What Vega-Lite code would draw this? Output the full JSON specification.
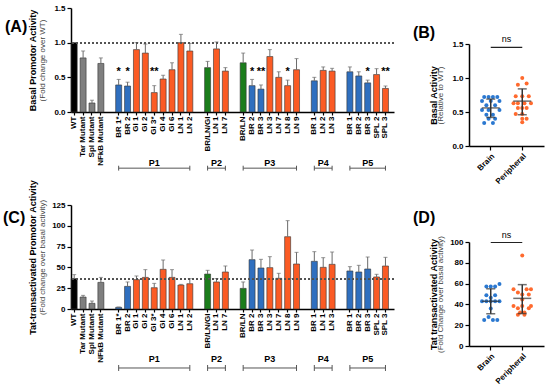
{
  "$schema": "https://vega.github.io/schema/vega-lite/v6.json",
  "padding": {"left": 3, "top": 4, "right": 4, "bottom": 2},
  "config": {
    "font": "Liberation Sans",
    "view": {"stroke": null},
    "axis": {"grid": false, "domainColor": "#000", "domainWidth": 1.5, "tickColor": "#000", "tickWidth": 1.2, "tickSize": 4, "labelFontSize": 8, "labelFontWeight": "bold", "labelColor": "#000", "labelPadding": 2, "titleFontSize": 9, "titleFontWeight": "bold", "titleColor": "#000"},
    "title": {"fontSize": 16, "fontWeight": "bold", "color": "#000"}
  },
  "datasets": {
    "A": [
      {"key": "WT", "t": "wt", "val": 1.0, "hi": null, "sig": null},
      {"key": "Tar Mutant", "t": "mut", "val": 0.78, "hi": 0.88, "sig": null},
      {"key": "Spl Mutant", "t": "mut", "val": 0.13, "hi": 0.17, "sig": null},
      {"key": "NFkB Mutant", "t": "mut", "val": 0.70, "hi": 0.78, "sig": null},
      {"key": "BR 1*", "t": "br", "val": 0.39, "hi": 0.47, "sig": "*"},
      {"key": "BR 2", "t": "br", "val": 0.375, "hi": 0.43, "sig": "*"},
      {"key": "GI 1", "t": "ln", "val": 0.90, "hi": 1.0, "sig": null},
      {"key": "GI 2", "t": "ln", "val": 0.85, "hi": 0.98, "sig": null},
      {"key": "GI 3*", "t": "ln", "val": 0.28, "hi": 0.38, "sig": "**"},
      {"key": "GI 4", "t": "ln", "val": 0.476, "hi": 0.53, "sig": null},
      {"key": "GI 6", "t": "ln", "val": 0.61, "hi": 0.71, "sig": null},
      {"key": "LN 1", "t": "ln", "val": 1.0, "hi": 1.12, "sig": null},
      {"key": "LN 2", "t": "ln", "val": 0.88, "hi": 0.99, "sig": null},
      {"key": "BR/LN/GI", "t": "mix", "val": 0.64, "hi": 0.73, "sig": null},
      {"key": "LN 1|2", "t": "ln", "val": 0.91, "hi": 1.01, "sig": null},
      {"key": "LN 7|2", "t": "ln", "val": 0.59, "hi": 0.64, "sig": null},
      {"key": "BR/LN", "t": "mix", "val": 0.71, "hi": 0.85, "sig": null},
      {"key": "BR 2|3", "t": "br", "val": 0.38, "hi": 0.47, "sig": "*"},
      {"key": "BR 3|3", "t": "br", "val": 0.33, "hi": 0.39, "sig": "**"},
      {"key": "LN 3|3", "t": "ln", "val": 0.80, "hi": 0.90, "sig": null},
      {"key": "LN 7|3", "t": "ln", "val": 0.50, "hi": 0.58, "sig": null},
      {"key": "LN 8|3", "t": "ln", "val": 0.38, "hi": 0.46, "sig": "*"},
      {"key": "LN 9|3", "t": "ln", "val": 0.61, "hi": 0.77, "sig": null},
      {"key": "BR 1|4", "t": "br", "val": 0.45, "hi": 0.50, "sig": null},
      {"key": "LN 2|4", "t": "ln", "val": 0.60, "hi": 0.65, "sig": null},
      {"key": "LN 3|4", "t": "ln", "val": 0.59, "hi": 0.63, "sig": null},
      {"key": "BR 1|5", "t": "br", "val": 0.58, "hi": 0.65, "sig": null},
      {"key": "BR 2|5", "t": "br", "val": 0.52, "hi": 0.58, "sig": null},
      {"key": "BR 3|5", "t": "br", "val": 0.42, "hi": 0.46, "sig": "*"},
      {"key": "SPL 2|5", "t": "ln", "val": 0.54, "hi": 0.625, "sig": null},
      {"key": "SPL 3|5", "t": "ln", "val": 0.34, "hi": 0.375, "sig": "**"}
    ],
    "C": [
      {"key": "WT", "t": "wt", "val": 36.5, "hi": 41.3},
      {"key": "Tar Mutant", "t": "mut", "val": 14.4, "hi": 16.4},
      {"key": "Spl Mutant", "t": "mut", "val": 6.8, "hi": 9.6},
      {"key": "NFkB Mutant", "t": "mut", "val": 32, "hi": 38},
      {"key": "BR 1*", "t": "br", "val": 2.0, "hi": 2.4},
      {"key": "BR 2", "t": "br", "val": 27.2, "hi": 32.5},
      {"key": "GI 1", "t": "ln", "val": 35.3, "hi": 39.7},
      {"key": "GI 2", "t": "ln", "val": 38, "hi": 47.3},
      {"key": "GI 3*", "t": "ln", "val": 25.6, "hi": 30.8},
      {"key": "GI 4", "t": "ln", "val": 47.7, "hi": 58.9},
      {"key": "GI 6", "t": "ln", "val": 38, "hi": 47.3},
      {"key": "LN 1", "t": "ln", "val": 28.8, "hi": 29.6},
      {"key": "LN 2", "t": "ln", "val": 30.4, "hi": 36.5},
      {"key": "BR/LN/GI", "t": "mix", "val": 42, "hi": 46.5},
      {"key": "LN 1|2", "t": "ln", "val": 32.5, "hi": 36.5},
      {"key": "LN 7|2", "t": "ln", "val": 44.5, "hi": 51.7},
      {"key": "BR/LN", "t": "mix", "val": 24.8, "hi": 32.5},
      {"key": "BR 2|3", "t": "br", "val": 59.3, "hi": 70.9},
      {"key": "BR 3|3", "t": "br", "val": 49.3, "hi": 59.7},
      {"key": "LN 3|3", "t": "ln", "val": 49.7, "hi": 62.9},
      {"key": "LN 7|3", "t": "ln", "val": 36.9, "hi": 42.9},
      {"key": "LN 8|3", "t": "ln", "val": 86.9, "hi": 106.2},
      {"key": "LN 9|3", "t": "ln", "val": 54.1, "hi": 68.1},
      {"key": "BR 1|4", "t": "br", "val": 57.3, "hi": 68.9},
      {"key": "LN 1|4", "t": "ln", "val": 50.1, "hi": 61.7},
      {"key": "LN 3|4", "t": "ln", "val": 53.7, "hi": 68.5},
      {"key": "BR 1|5", "t": "br", "val": 45.7, "hi": 50.9},
      {"key": "BR 2|5", "t": "br", "val": 44.5, "hi": 52.5},
      {"key": "BR 3|5", "t": "br", "val": 48.1, "hi": 62.5},
      {"key": "SPL 2|5", "t": "ln", "val": 38.5, "hi": 41.7},
      {"key": "SPL 3|5", "t": "ln", "val": 51.7, "hi": 62.1}
    ],
    "GA": [
      {"g": "P1", "s": "BR 1*", "e": "LN 2", "m": "GI 3*"},
      {"g": "P2", "s": "BR/LN/GI", "e": "LN 7|2", "m": "LN 1|2"},
      {"g": "P3", "s": "BR/LN", "e": "LN 9|3", "m": "LN 3|3"},
      {"g": "P4", "s": "BR 1|4", "e": "LN 3|4", "m": "LN 2|4"},
      {"g": "P5", "s": "BR 1|5", "e": "SPL 3|5", "m": "BR 3|5"}
    ],
    "GC": [
      {"g": "P1", "s": "BR 1*", "e": "LN 2", "m": "GI 3*"},
      {"g": "P2", "s": "BR/LN/GI", "e": "LN 7|2", "m": "LN 1|2"},
      {"g": "P3", "s": "BR/LN", "e": "LN 9|3", "m": "LN 3|3"},
      {"g": "P4", "s": "BR 1|4", "e": "LN 3|4", "m": "LN 1|4"},
      {"g": "P5", "s": "BR 1|5", "e": "SPL 3|5", "m": "BR 3|5"}
    ],
    "BP": [
      {"grp": "Brain", "v": 0.72, "k": -3}, {"grp": "Brain", "v": 0.72, "k": -1}, {"grp": "Brain", "v": 0.72, "k": 1}, {"grp": "Brain", "v": 0.72, "k": 3},
      {"grp": "Brain", "v": 0.66, "k": -4}, {"grp": "Brain", "v": 0.66, "k": 0}, {"grp": "Brain", "v": 0.66, "k": 4},
      {"grp": "Brain", "v": 0.60, "k": -2}, {"grp": "Brain", "v": 0.60, "k": 2},
      {"grp": "Brain", "v": 0.53, "k": -4}, {"grp": "Brain", "v": 0.53, "k": -1}, {"grp": "Brain", "v": 0.53, "k": 4},
      {"grp": "Brain", "v": 0.46, "k": -2}, {"grp": "Brain", "v": 0.46, "k": 1},
      {"grp": "Brain", "v": 0.40, "k": -1}, {"grp": "Brain", "v": 0.40, "k": 2},
      {"grp": "Brain", "v": 0.34, "k": -3}, {"grp": "Brain", "v": 0.34, "k": 1},
      {"grp": "Peripheral", "v": 1.0, "k": 0},
      {"grp": "Peripheral", "v": 0.90, "k": -2}, {"grp": "Peripheral", "v": 0.92, "k": 2},
      {"grp": "Peripheral", "v": 0.73, "k": -3}, {"grp": "Peripheral", "v": 0.73, "k": 0}, {"grp": "Peripheral", "v": 0.73, "k": 3},
      {"grp": "Peripheral", "v": 0.63, "k": -4}, {"grp": "Peripheral", "v": 0.63, "k": -2}, {"grp": "Peripheral", "v": 0.63, "k": 1}, {"grp": "Peripheral", "v": 0.63, "k": 4},
      {"grp": "Peripheral", "v": 0.56, "k": -2}, {"grp": "Peripheral", "v": 0.56, "k": 0}, {"grp": "Peripheral", "v": 0.56, "k": 2},
      {"grp": "Peripheral", "v": 0.47, "k": -3}, {"grp": "Peripheral", "v": 0.47, "k": 0},
      {"grp": "Peripheral", "v": 0.40, "k": 0}, {"grp": "Peripheral", "v": 0.40, "k": 2},
      {"grp": "Peripheral", "v": 0.35, "k": 0}
    ],
    "BS": [
      {"grp": "Brain", "mean": 0.56, "lo": 0.42, "hi": 0.69},
      {"grp": "Peripheral", "mean": 0.66, "lo": 0.46, "hi": 0.84}
    ],
    "DP": [
      {"grp": "Brain", "v": 59.6, "k": 4},
      {"grp": "Brain", "v": 57.3, "k": -2}, {"grp": "Brain", "v": 57.3, "k": 0}, {"grp": "Brain", "v": 57.3, "k": 2},
      {"grp": "Brain", "v": 48.7, "k": -2}, {"grp": "Brain", "v": 48.7, "k": 2},
      {"grp": "Brain", "v": 46.5, "k": 0},
      {"grp": "Brain", "v": 43, "k": -4}, {"grp": "Brain", "v": 43, "k": -2}, {"grp": "Brain", "v": 43, "k": 0}, {"grp": "Brain", "v": 43, "k": 2}, {"grp": "Brain", "v": 43, "k": 4},
      {"grp": "Brain", "v": 36, "k": 0},
      {"grp": "Brain", "v": 28, "k": -1},
      {"grp": "Brain", "v": 25, "k": -3}, {"grp": "Brain", "v": 25, "k": 1}, {"grp": "Brain", "v": 25, "k": 3},
      {"grp": "Peripheral", "v": 87, "k": 0},
      {"grp": "Peripheral", "v": 54.5, "k": -4}, {"grp": "Peripheral", "v": 54.5, "k": 2}, {"grp": "Peripheral", "v": 54.5, "k": 4},
      {"grp": "Peripheral", "v": 51.5, "k": -2},
      {"grp": "Peripheral", "v": 49.5, "k": 0}, {"grp": "Peripheral", "v": 49.5, "k": 3},
      {"grp": "Peripheral", "v": 44.6, "k": 0},
      {"grp": "Peripheral", "v": 38.5, "k": -4}, {"grp": "Peripheral", "v": 38.5, "k": 0}, {"grp": "Peripheral", "v": 38.5, "k": 4},
      {"grp": "Peripheral", "v": 36.3, "k": -2}, {"grp": "Peripheral", "v": 36.3, "k": 3},
      {"grp": "Peripheral", "v": 32.2, "k": -1}, {"grp": "Peripheral", "v": 32.2, "k": 1},
      {"grp": "Peripheral", "v": 30, "k": -2}, {"grp": "Peripheral", "v": 30, "k": 1}
    ],
    "DS": [
      {"grp": "Brain", "mean": 43, "lo": 31, "hi": 55},
      {"grp": "Peripheral", "mean": 45.8, "lo": 31.2, "hi": 59}
    ],
    "NS": [{"a": "Brain", "b": "Peripheral", "t": "ns", "p": "(B)"}]
  },
  "columns": 2,
  "bounds": "flush",
  "spacing": {"row": 59, "column": 75},
  "resolve": {"scale": {"color": "independent"}},
  "concat": [
    {
      "width": 323, "height": 104,
      "title": {"text": "(A)", "anchor": "start", "frame": "group", "align": "left", "dx": -66, "dy": 31, "offset": 0},
      "layer": [
        {
          "data": {"name": "A"},
          "mark": {"type": "bar", "stroke": "#333", "strokeWidth": 0.6, "width": 6},
          "encoding": {
            "x": {"field": "key", "type": "nominal", "title": null,
              "scale": {"type": "band", "domain": ["WT","Tar Mutant","Spl Mutant","NFkB Mutant","|1","BR 1*","BR 2","GI 1","GI 2","GI 3*","GI 4","GI 6","LN 1","LN 2","|2","BR/LN/GI","LN 1|2","LN 7|2","|3","BR/LN","BR 2|3","BR 3|3","LN 3|3","LN 7|3","LN 8|3","LN 9|3","|4","BR 1|4","LN 2|4","LN 3|4","|5","BR 1|5","BR 2|5","BR 3|5","SPL 2|5","SPL 3|5"], "paddingInner": 0.28, "paddingOuter": 0.3, "align": 0},
              "axis": {"labelAngle": -90, "labelExpr": "split(datum.value,'|')[0]", "tickSize": 3, "labelPadding": 1, "tickOpacity": {"condition": {"test": "indexof(datum.value,'|')==0", "value": 0}, "value": 1}}},
            "y": {"field": "val", "type": "quantitative", "scale": {"domain": [0, 1.5]},
              "axis": {"title": "(Fold change over WT)", "values": [0, 0.5, 1, 1.5], "format": ".1f", "titleFontWeight": "normal", "titleFontSize": 8, "titleColor": "#444", "titlePadding": 7, "minExtent": 0}},
            "color": {"field": "t", "type": "nominal", "legend": null, "scale": {"domain": ["wt","mut","br","ln","mix"], "range": ["#000000","#7f7f7f","#2f6fbf","#fb5b24","#1b7d1b"]}}
          }
        },
        {
          "data": {"name": "A"},
          "transform": [{"filter": "isValid(datum.hi)"}],
          "mark": {"type": "rule", "color": "#6b6b6b", "strokeWidth": 1},
          "encoding": {
            "x": {"field": "key", "type": "nominal", "title": null},
            "y": {"field": "val", "type": "quantitative", "scale": {"domain": [0, 1.5]}, "axis": {"orient": "left", "title": "Basal Promotor Activity", "labels": false, "ticks": false, "domain": false, "titlePadding": 34, "minExtent": 0}},
            "y2": {"field": "hi"}
          }
        },
        {
          "data": {"name": "A"},
          "transform": [{"filter": "isValid(datum.hi)"}],
          "mark": {"type": "tick", "color": "#6b6b6b", "size": 4, "thickness": 1},
          "encoding": {
            "x": {"field": "key", "type": "nominal", "title": null},
            "y": {"field": "hi", "type": "quantitative", "scale": {"domain": [0, 1.5]}, "axis": null}
          }
        },
        {
          "data": {"name": "A"},
          "transform": [{"filter": "isValid(datum.sig)"}],
          "mark": {"type": "text", "fontWeight": "bold", "fontSize": 11, "baseline": "middle"},
          "encoding": {
            "x": {"field": "key", "type": "nominal", "title": null},
            "y": {"datum": 0.57, "type": "quantitative", "scale": {"domain": [0, 1.5]}, "axis": null},
            "text": {"field": "sig"}
          }
        },
        {
          "data": {"name": "A"},
          "mark": {"type": "rule", "strokeDash": [2, 2], "color": "#555", "strokeWidth": 1},
          "encoding": {"y": {"datum": 1, "type": "quantitative", "scale": {"domain": [0, 1.5]}, "axis": null}}
        },
        {
          "data": {"name": "GA"},
          "mark": {"type": "rule", "color": "#555", "strokeWidth": 1},
          "encoding": {
            "x": {"field": "s", "type": "nominal", "title": null},
            "x2": {"field": "e"},
            "y": {"datum": -0.81, "type": "quantitative", "scale": {"domain": [0, 1.5]}, "axis": null}
          }
        },
        {
          "data": {"name": "GA"},
          "mark": {"type": "rule", "color": "#555", "strokeWidth": 1},
          "encoding": {
            "x": {"field": "s", "type": "nominal", "title": null},
            "y": {"datum": -0.775, "type": "quantitative", "scale": {"domain": [0, 1.5]}, "axis": null},
            "y2": {"datum": -0.845}
          }
        },
        {
          "data": {"name": "GA"},
          "mark": {"type": "rule", "color": "#555", "strokeWidth": 1},
          "encoding": {
            "x": {"field": "e", "type": "nominal", "title": null},
            "y": {"datum": -0.775, "type": "quantitative", "scale": {"domain": [0, 1.5]}, "axis": null},
            "y2": {"datum": -0.845}
          }
        },
        {
          "data": {"name": "GA"},
          "mark": {"type": "text", "fontWeight": "bold", "fontSize": 9, "baseline": "middle"},
          "encoding": {
            "x": {"field": "m", "type": "nominal", "title": null},
            "y": {"datum": -0.736, "type": "quantitative", "scale": {"domain": [0, 1.5]}, "axis": null},
            "text": {"field": "g"}
          }
        }
      ],
      "resolve": {"axis": {"y": "independent"}}
    },
    {
      "width": 75, "height": 138,
      "layer": [
        {
          "data": {"name": "BP"},
          "mark": {"type": "circle", "size": 16, "opacity": 1},
          "encoding": {
            "x": {"field": "grp", "type": "nominal", "title": null, "scale": {"type": "band", "domain": ["Brain", "Peripheral"], "paddingInner": 0.1, "paddingOuter": 0.24}, "axis": {"labelAngle": -45}},
            "xOffset": {"field": "k", "type": "ordinal", "scale": {"domain": [-6,-5,-4,-3,-2,-1,0,1,2,3,4,5,6]}},
            "y": {"field": "v", "type": "quantitative", "scale": {"domain": [0, 1.5], "range": [138, 36]},
              "axis": {"title": "(Relative to WT)", "values": [0, 0.5, 1, 1.5], "format": ".1f", "titleFontWeight": "normal", "titleFontSize": 8, "titleColor": "#444", "titlePadding": 7, "minExtent": 0}},
            "color": {"field": "grp", "type": "nominal", "legend": null, "scale": {"domain": ["Brain", "Peripheral"], "range": ["#2b78d0", "#ff6a2e"]}}
          }
        },
        {
          "data": {"name": "BS"},
          "mark": {"type": "rule", "color": "#333", "strokeWidth": 1.5},
          "encoding": {
            "x": {"field": "grp", "type": "nominal", "title": null},
            "y": {"field": "lo", "type": "quantitative", "scale": {"domain": [0, 1.5], "range": [138, 36]}, "axis": {"orient": "left", "title": "Basal Activity", "labels": false, "ticks": false, "domain": false, "titlePadding": 31, "minExtent": 0}},
            "y2": {"field": "hi"}
          }
        },
        {
          "data": {"name": "BS"},
          "mark": {"type": "tick", "color": "#333", "size": 18, "thickness": 1.5},
          "encoding": {"x": {"field": "grp", "type": "nominal", "title": null}, "y": {"field": "mean", "type": "quantitative", "scale": {"domain": [0, 1.5], "range": [138, 36]}, "axis": null}}
        },
        {
          "data": {"name": "BS"},
          "mark": {"type": "tick", "color": "#333", "size": 9, "thickness": 1.5},
          "encoding": {"x": {"field": "grp", "type": "nominal", "title": null}, "y": {"field": "lo", "type": "quantitative", "scale": {"domain": [0, 1.5], "range": [138, 36]}, "axis": null}}
        },
        {
          "data": {"name": "BS"},
          "mark": {"type": "tick", "color": "#333", "size": 9, "thickness": 1.5},
          "encoding": {"x": {"field": "grp", "type": "nominal", "title": null}, "y": {"field": "hi", "type": "quantitative", "scale": {"domain": [0, 1.5], "range": [138, 36]}, "axis": null}}
        },
        {
          "data": {"name": "NS"},
          "mark": {"type": "rule", "color": "#222", "strokeWidth": 1.2},
          "encoding": {"x": {"field": "a", "type": "nominal", "title": null}, "x2": {"field": "b"}, "y": {"datum": 1.45, "type": "quantitative", "scale": {"domain": [0, 1.5], "range": [138, 36]}, "axis": null}}
        },
        {
          "data": {"name": "NS"},
          "mark": {"type": "text", "fontSize": 9, "baseline": "middle"},
          "encoding": {"x": {"field": "a", "type": "nominal", "title": null, "bandPosition": 1.056}, "y": {"datum": 1.57, "type": "quantitative", "scale": {"domain": [0, 1.5], "range": [138, 36]}, "axis": null}, "text": {"field": "t"}}
        },
        {
          "data": {"name": "NS"},
          "mark": {"type": "text", "fontSize": 16, "fontWeight": "bold", "baseline": "middle", "align": "center"},
          "encoding": {"x": {"field": "a", "type": "nominal", "title": null, "bandPosition": -1.853}, "y": {"datum": 1.655, "type": "quantitative", "scale": {"domain": [0, 1.5], "range": [138, 36]}, "axis": null}, "text": {"field": "p"}}
        }
      ],
      "resolve": {"axis": {"y": "independent"}}
    },
    {
      "width": 323, "height": 104,
      "title": {"text": "(C)", "anchor": "start", "frame": "group", "align": "left", "dx": -68, "dy": 46, "offset": 0},
      "layer": [
        {
          "data": {"name": "C"},
          "mark": {"type": "bar", "stroke": "#333", "strokeWidth": 0.6, "width": 6},
          "encoding": {
            "x": {"field": "key", "type": "nominal", "title": null,
              "scale": {"type": "band", "domain": ["WT","Tar Mutant","Spl Mutant","NFkB Mutant","|1","BR 1*","BR 2","GI 1","GI 2","GI 3*","GI 4","GI 6","LN 1","LN 2","|2","BR/LN/GI","LN 1|2","LN 7|2","|3","BR/LN","BR 2|3","BR 3|3","LN 3|3","LN 7|3","LN 8|3","LN 9|3","|4","BR 1|4","LN 1|4","LN 3|4","|5","BR 1|5","BR 2|5","BR 3|5","SPL 2|5","SPL 3|5"], "paddingInner": 0.28, "paddingOuter": 0.3, "align": 0},
              "axis": {"labelAngle": -90, "labelExpr": "split(datum.value,'|')[0]", "tickSize": 3, "labelPadding": 1, "tickOpacity": {"condition": {"test": "indexof(datum.value,'|')==0", "value": 0}, "value": 1}}},
            "y": {"field": "val", "type": "quantitative", "scale": {"domain": [0, 125]},
              "axis": {"title": "(Fold change over basal activity)", "values": [0, 25, 50, 75, 100, 125], "titleFontWeight": "normal", "titleFontSize": 8, "titleColor": "#444", "titlePadding": 5, "minExtent": 0}},
            "color": {"field": "t", "type": "nominal", "legend": null, "scale": {"domain": ["wt","mut","br","ln","mix"], "range": ["#000000","#7f7f7f","#2f6fbf","#fb5b24","#1b7d1b"]}}
          }
        },
        {
          "data": {"name": "C"},
          "mark": {"type": "rule", "color": "#6b6b6b", "strokeWidth": 1},
          "encoding": {
            "x": {"field": "key", "type": "nominal", "title": null},
            "y": {"field": "val", "type": "quantitative", "scale": {"domain": [0, 125]}, "axis": {"orient": "left", "title": "Tat-transactivated Promotor Activity", "labels": false, "ticks": false, "domain": false, "titlePadding": 34, "minExtent": 0}},
            "y2": {"field": "hi"}
          }
        },
        {
          "data": {"name": "C"},
          "mark": {"type": "tick", "color": "#6b6b6b", "size": 4, "thickness": 1},
          "encoding": {
            "x": {"field": "key", "type": "nominal", "title": null},
            "y": {"field": "hi", "type": "quantitative", "scale": {"domain": [0, 125]}, "axis": null}
          }
        },
        {
          "data": {"name": "C"},
          "mark": {"type": "rule", "strokeDash": [2, 2], "color": "#555", "strokeWidth": 1},
          "encoding": {"y": {"datum": 36.5, "type": "quantitative", "scale": {"domain": [0, 125]}, "axis": null}}
        },
        {
          "data": {"name": "GC"},
          "mark": {"type": "rule", "color": "#555", "strokeWidth": 1},
          "encoding": {
            "x": {"field": "s", "type": "nominal", "title": null},
            "x2": {"field": "e"},
            "y": {"datum": -70.9, "type": "quantitative", "scale": {"domain": [0, 125]}, "axis": null}
          }
        },
        {
          "data": {"name": "GC"},
          "mark": {"type": "rule", "color": "#555", "strokeWidth": 1},
          "encoding": {
            "x": {"field": "s", "type": "nominal", "title": null},
            "y": {"datum": -67.3, "type": "quantitative", "scale": {"domain": [0, 125]}, "axis": null},
            "y2": {"datum": -74.5}
          }
        },
        {
          "data": {"name": "GC"},
          "mark": {"type": "rule", "color": "#555", "strokeWidth": 1},
          "encoding": {
            "x": {"field": "e", "type": "nominal", "title": null},
            "y": {"datum": -67.3, "type": "quantitative", "scale": {"domain": [0, 125]}, "axis": null},
            "y2": {"datum": -74.5}
          }
        },
        {
          "data": {"name": "GC"},
          "mark": {"type": "text", "fontWeight": "bold", "fontSize": 9, "baseline": "middle"},
          "encoding": {
            "x": {"field": "m", "type": "nominal", "title": null},
            "y": {"datum": -60.1, "type": "quantitative", "scale": {"domain": [0, 125]}, "axis": null},
            "text": {"field": "g"}
          }
        }
      ],
      "resolve": {"axis": {"y": "independent"}}
    },
    {
      "width": 75, "height": 141,
      "title": {"text": "(D)", "anchor": "start", "frame": "group", "align": "left", "dx": -56, "dy": 21, "offset": 0},
      "layer": [
        {
          "data": {"name": "DP"},
          "mark": {"type": "circle", "size": 16, "opacity": 1},
          "encoding": {
            "x": {"field": "grp", "type": "nominal", "title": null, "scale": {"type": "band", "domain": ["Brain", "Peripheral"], "paddingInner": 0.1, "paddingOuter": 0.24}, "axis": {"labelAngle": -45}},
            "xOffset": {"field": "k", "type": "ordinal", "scale": {"domain": [-6,-5,-4,-3,-2,-1,0,1,2,3,4,5,6]}},
            "y": {"field": "v", "type": "quantitative", "scale": {"domain": [0, 100], "range": [141, 37]},
              "axis": {"title": "(Fold Change over basal activity)", "values": [0, 20, 40, 60, 80, 100], "titleFontWeight": "normal", "titleFontSize": 8, "titleColor": "#444", "titlePadding": 5, "minExtent": 0}},
            "color": {"field": "grp", "type": "nominal", "legend": null, "scale": {"domain": ["Brain", "Peripheral"], "range": ["#2b78d0", "#ff6a2e"]}}
          }
        },
        {
          "data": {"name": "DS"},
          "mark": {"type": "rule", "color": "#333", "strokeWidth": 1.5},
          "encoding": {
            "x": {"field": "grp", "type": "nominal", "title": null},
            "y": {"field": "lo", "type": "quantitative", "scale": {"domain": [0, 100], "range": [141, 37]}, "axis": {"orient": "left", "title": "Tat transactivated Activity", "labels": false, "ticks": false, "domain": false, "titlePadding": 31, "minExtent": 0}},
            "y2": {"field": "hi"}
          }
        },
        {
          "data": {"name": "DS"},
          "mark": {"type": "tick", "color": "#333", "size": 18, "thickness": 1.5},
          "encoding": {"x": {"field": "grp", "type": "nominal", "title": null}, "y": {"field": "mean", "type": "quantitative", "scale": {"domain": [0, 100], "range": [141, 37]}, "axis": null}}
        },
        {
          "data": {"name": "DS"},
          "mark": {"type": "tick", "color": "#333", "size": 9, "thickness": 1.5},
          "encoding": {"x": {"field": "grp", "type": "nominal", "title": null}, "y": {"field": "lo", "type": "quantitative", "scale": {"domain": [0, 100], "range": [141, 37]}, "axis": null}}
        },
        {
          "data": {"name": "DS"},
          "mark": {"type": "tick", "color": "#333", "size": 9, "thickness": 1.5},
          "encoding": {"x": {"field": "grp", "type": "nominal", "title": null}, "y": {"field": "hi", "type": "quantitative", "scale": {"domain": [0, 100], "range": [141, 37]}, "axis": null}}
        },
        {
          "data": {"name": "NS"},
          "mark": {"type": "rule", "color": "#222", "strokeWidth": 1.2},
          "encoding": {"x": {"field": "a", "type": "nominal", "title": null}, "x2": {"field": "b"}, "y": {"datum": 99.5, "type": "quantitative", "scale": {"domain": [0, 100], "range": [141, 37]}, "axis": null}}
        },
        {
          "data": {"name": "NS"},
          "mark": {"type": "text", "fontSize": 9, "baseline": "middle"},
          "encoding": {"x": {"field": "a", "type": "nominal", "title": null, "bandPosition": 1.056}, "y": {"datum": 107, "type": "quantitative", "scale": {"domain": [0, 100], "range": [141, 37]}, "axis": null}, "text": {"field": "t"}}
        }
      ],
      "resolve": {"axis": {"y": "independent"}}
    }
  ]
}
